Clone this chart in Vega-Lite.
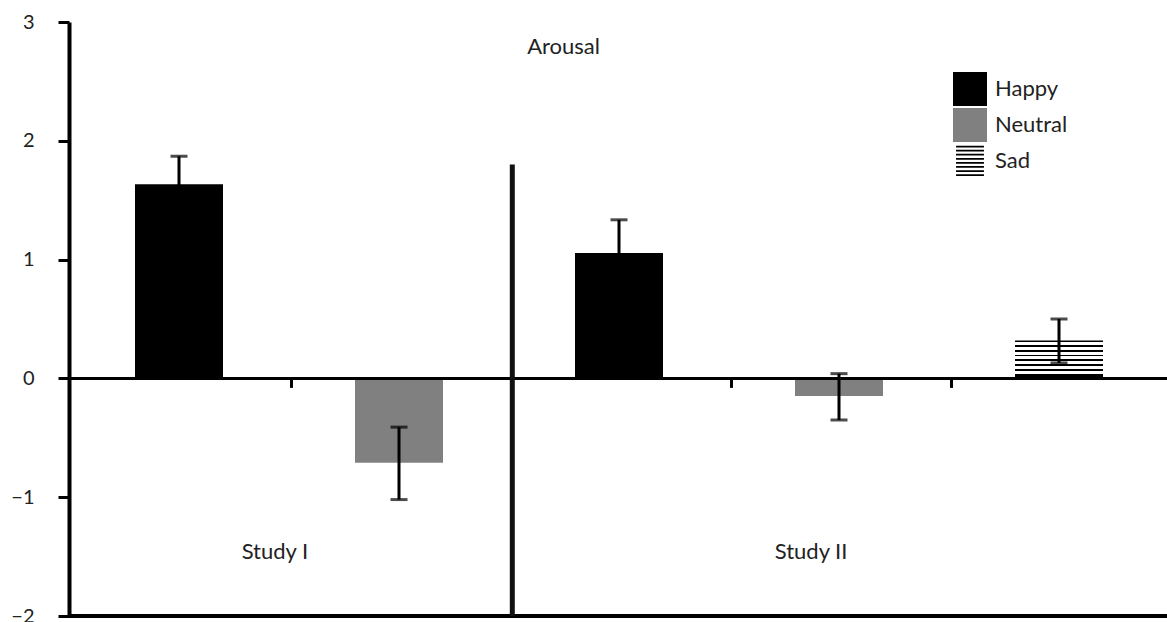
{
  "$schema": "https://vega.github.io/schema/vega-lite/v6.json",
  "width": 1100,
  "height": 594,
  "autosize": "none",
  "padding": {"left": 69, "top": 22, "right": 0, "bottom": 6},
  "background": "white",
  "config": {"view": {"stroke": null}, "font": "Lato"},
  "data": {"values": [
    {"cat": "I-Happy", "emotion": "Happy", "value": 1.635, "lo": 1.39, "hi": 1.87},
    {"cat": "I-Neutral", "emotion": "Neutral", "value": -0.71, "lo": -1.02, "hi": -0.41},
    {"cat": "II-Happy", "emotion": "Happy", "value": 1.055, "lo": 0.74, "hi": 1.335},
    {"cat": "II-Neutral", "emotion": "Neutral", "value": -0.148, "lo": -0.35, "hi": 0.04},
    {"cat": "II-Sad", "emotion": "Sad", "value": 0.32, "lo": 0.13, "hi": 0.5}
  ]},
  "encoding": {
    "x": {"field": "cat", "type": "nominal", "sort": null,
      "scale": {"domain": ["I-Happy", "I-Neutral", "II-Happy", "II-Neutral", "II-Sad"], "paddingInner": 0, "paddingOuter": 0},
      "axis": {"orient": "bottom", "offset": -237.6, "bandPosition": 0.01, "values": ["I-Neutral", "II-Happy", "II-Neutral", "II-Sad"], "labels": false, "domain": false, "title": null, "ticks": true, "tickSize": 9, "tickWidth": 3, "tickColor": "black", "grid": false}}
  },
  "layer": [
    {
      "transform": [{"filter": "datum.emotion !== 'Sad'"}],
      "mark": {"type": "bar", "width": {"band": 0.4}},
      "encoding": {
        "y": {"field": "value", "type": "quantitative",
          "scale": {"domain": [-2, 3], "nice": false, "zero": false},
          "axis": {"values": [-2, -1, 0, 1, 2, 3], "format": "d", "title": null, "grid": false, "domainWidth": 4, "domainColor": "black", "tickColor": "black", "tickWidth": 3, "tickSize": 11, "labelFontSize": 20, "labelFont": "Lato", "labelColor": "#222222", "labelPadding": 24}},
        "color": {"field": "emotion", "type": "nominal",
          "scale": {"domain": ["Happy", "Neutral", "Sad"], "range": ["#000000", "#808080", "#000000"]},
          "legend": {"orient": "none", "legendX": 884, "legendY": 50, "title": null, "symbolSize": 1156, "symbolStrokeWidth": 0, "labelFontSize": 22, "labelFont": "Lato", "labelColor": "#222222", "labelOffset": 8, "rowPadding": 2}}
      }
    },
    {
      "transform": [{"filter": "false"}],
      "mark": {"type": "point", "filled": true, "opacity": 1},
      "encoding": {
        "y": {"field": "value", "type": "quantitative"},
        "color": {"field": "emotion", "type": "nominal",
          "legend": {"orient": "none", "legendX": 884, "legendY": 50, "title": null, "symbolSize": 1156, "symbolStrokeWidth": 0, "labelFontSize": 22, "labelFont": "Lato", "labelColor": "#222222", "labelOffset": 8, "rowPadding": 2}},
        "shape": {"field": "emotion", "type": "nominal",
          "scale": {"domain": ["Happy", "Neutral", "Sad"], "range": [
            "M-1,-1H1V1H-1Z",
            "M-1,-1H1V1H-1Z",
            "M-0.82,-0.9H0.82V-0.8H-0.82Z M-0.82,-0.66H0.82V-0.56H-0.82Z M-0.82,-0.42H0.82V-0.32H-0.82Z M-0.82,-0.18H0.82V-0.08H-0.82Z M-0.82,0.06H0.82V0.16H-0.82Z M-0.82,0.3H0.82V0.4H-0.82Z M-0.82,0.54H0.82V0.64H-0.82Z M-0.82,0.78H0.82V0.88H-0.82Z"
          ]},
          "legend": {"orient": "none", "legendX": 884, "legendY": 50, "title": null, "symbolSize": 1156, "symbolStrokeWidth": 0, "labelFontSize": 22, "labelFont": "Lato", "labelColor": "#222222", "labelOffset": 8, "rowPadding": 2}}
      }
    },
    {
      "transform": [{"filter": "datum.emotion === 'Sad'"}],
      "mark": {"type": "bar", "width": {"band": 0.4},
        "fill": {"gradient": "linear", "x1": 0, "y1": 0, "x2": 0, "y2": 1, "stops": [
          {"offset": 0, "color": "black"}, {"offset": 0.045, "color": "black"}, {"offset": 0.045, "color": "white"}, {"offset": 0.125, "color": "white"},
          {"offset": 0.125, "color": "black"}, {"offset": 0.17, "color": "black"}, {"offset": 0.17, "color": "white"}, {"offset": 0.25, "color": "white"},
          {"offset": 0.25, "color": "black"}, {"offset": 0.295, "color": "black"}, {"offset": 0.295, "color": "white"}, {"offset": 0.375, "color": "white"},
          {"offset": 0.375, "color": "black"}, {"offset": 0.42, "color": "black"}, {"offset": 0.42, "color": "white"}, {"offset": 0.5, "color": "white"},
          {"offset": 0.5, "color": "black"}, {"offset": 0.545, "color": "black"}, {"offset": 0.545, "color": "white"}, {"offset": 0.625, "color": "white"},
          {"offset": 0.625, "color": "black"}, {"offset": 0.67, "color": "black"}, {"offset": 0.67, "color": "white"}, {"offset": 0.75, "color": "white"},
          {"offset": 0.75, "color": "black"}, {"offset": 0.795, "color": "black"}, {"offset": 0.795, "color": "white"}, {"offset": 0.875, "color": "white"},
          {"offset": 0.875, "color": "black"}, {"offset": 1, "color": "black"}
        ]}},
      "encoding": {
        "y": {"field": "value", "type": "quantitative"}
      }
    },
    {
      "mark": {"type": "rule", "color": "black", "strokeWidth": 3},
      "encoding": {
        "y": {"field": "lo", "type": "quantitative"},
        "y2": {"field": "hi"}
      }
    },
    {
      "mark": {"type": "tick", "color": "black", "size": 17, "thickness": 3, "orient": "horizontal"},
      "encoding": {
        "y": {"field": "lo", "type": "quantitative"}
      }
    },
    {
      "mark": {"type": "tick", "color": "black", "size": 17, "thickness": 3, "orient": "horizontal"},
      "encoding": {
        "y": {"field": "hi", "type": "quantitative"}
      }
    },
    {
      "data": {"values": [{"level": 0}]},
      "mark": {"type": "rule", "color": "black", "strokeWidth": 3},
      "encoding": {"x": null, "y": {"field": "level", "type": "quantitative"}}
    },
    {
      "data": {"values": [{"level": -2}]},
      "mark": {"type": "rule", "color": "black", "strokeWidth": 4},
      "encoding": {"x": null, "y": {"field": "level", "type": "quantitative"}}
    },
    {
      "data": {"values": [{"cat": "II-Happy", "top": 1.8, "bottom": -2}]},
      "mark": {"type": "rule", "color": "#111111", "strokeWidth": 5},
      "encoding": {
        "x": {"field": "cat", "type": "nominal", "bandPosition": 0.015},
        "y": {"field": "top", "type": "quantitative"},
        "y2": {"field": "bottom"}
      }
    },
    {
      "data": {"values": [{"label": "Arousal", "cat": "II-Happy", "yv": 2.79}]},
      "mark": {"type": "text", "fontSize": 22, "fontWeight": "normal", "font": "Lato", "color": "#222222", "baseline": "middle", "align": "center"},
      "encoding": {
        "x": {"field": "cat", "type": "nominal", "bandPosition": 0.248},
        "y": {"field": "yv", "type": "quantitative"},
        "text": {"field": "label"}
      }
    },
    {
      "data": {"values": [{"label": "Study I", "cat": "I-Happy", "yv": -1.461}]},
      "mark": {"type": "text", "fontSize": 22, "fontWeight": "normal", "font": "Lato", "color": "#222222", "baseline": "middle", "align": "center"},
      "encoding": {
        "x": {"field": "cat", "type": "nominal", "bandPosition": 0.936},
        "y": {"field": "yv", "type": "quantitative"},
        "text": {"field": "label"}
      }
    },
    {
      "data": {"values": [{"label": "Study II", "cat": "II-Neutral", "yv": -1.461}]},
      "mark": {"type": "text", "fontSize": 22, "fontWeight": "normal", "font": "Lato", "color": "#222222", "baseline": "middle", "align": "center"},
      "encoding": {
        "x": {"field": "cat", "type": "nominal", "bandPosition": 0.373},
        "y": {"field": "yv", "type": "quantitative"},
        "text": {"field": "label"}
      }
    }
  ]
}
